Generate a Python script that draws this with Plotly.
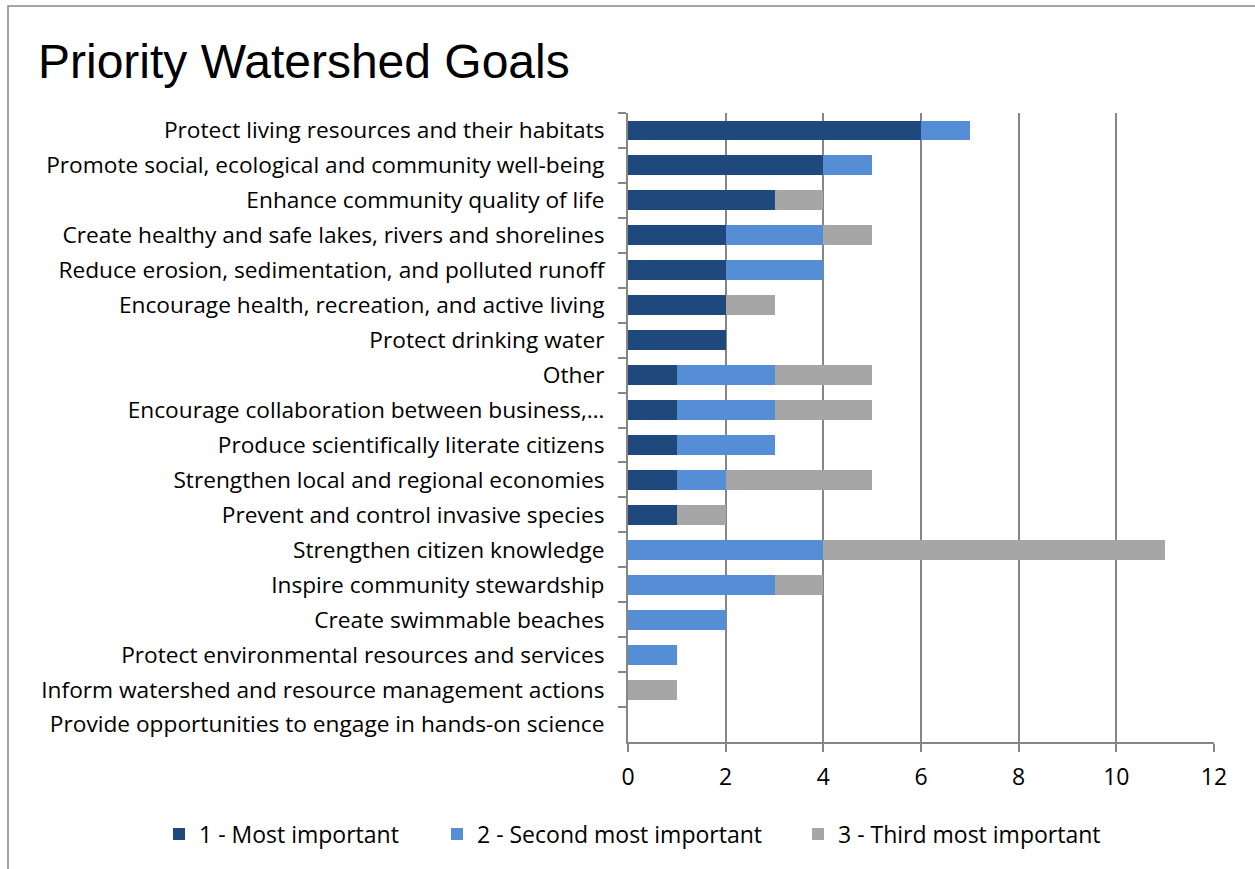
import plotly.graph_objects as go

categories = [
    "Protect living resources and their habitats",
    "Promote social, ecological and community well-being",
    "Enhance community quality of life",
    "Create healthy and safe lakes, rivers and shorelines",
    "Reduce erosion, sedimentation, and polluted runoff",
    "Encourage health, recreation, and active living",
    "Protect drinking water",
    "Other",
    "Encourage collaboration between business,…",
    "Produce scientifically literate citizens",
    "Strengthen local and regional economies",
    "Prevent and control invasive species",
    "Strengthen citizen knowledge",
    "Inspire community stewardship",
    "Create swimmable beaches",
    "Protect environmental resources and services",
    "Inform watershed and resource management actions",
    "Provide opportunities to engage in hands-on science",
]
most_important = [6, 4, 3, 2, 2, 2, 2, 1, 1, 1, 1, 1, 0, 0, 0, 0, 0, 0]
second_most = [1, 1, 0, 2, 2, 0, 0, 2, 2, 2, 1, 0, 4, 3, 2, 1, 0, 0]
third_most = [0, 0, 1, 1, 0, 1, 0, 2, 2, 0, 3, 1, 7, 1, 0, 0, 1, 0]
series_names = ["1 - Most important", "2 - Second most important", "3 - Third most important"]
colors = ["#1F497D", "#558ED5", "#A6A6A6"]
x_ticks = [0, 2, 4, 6, 8, 10, 12]

W, H = 1255, 869
L, R, T, B = 628, 41, 113, 127
pw, ph = W - L - R, H - T - B

legend_ids = ["legend", "legend2", "legend3"]
legend_x_px = [159, 437, 798]

fig = go.Figure()
for name, vals, c, lid in zip(series_names, [most_important, second_most, third_most], colors, legend_ids):
    fig.add_trace(go.Bar(
        y=categories, x=vals, name=name, orientation="h", legend=lid,
        showlegend=True,
        marker=dict(color=c, line=dict(width=0)), width=0.57,
    ))

legend_common = dict(orientation="h", xref="container", xanchor="left",
                     yref="container", y=1 - 834 / H, yanchor="middle",
                     font=dict(size=23), bgcolor="rgba(0,0,0,0)", visible=True)
legends = {lid: dict(legend_common, x=px / W) for lid, px in zip(legend_ids, legend_x_px)}

fig.update_layout(
    width=W, height=H,
    barmode="stack",
    showlegend=True,
    paper_bgcolor="white", plot_bgcolor="white",
    margin=dict(l=L, r=R, t=T, b=B, autoexpand=False),
    font=dict(family="Open Sans", size=22, color="black"),
    title=dict(text="Priority Watershed Goals", x=38 / W, xanchor="left",
               y=1 - 61 / H, yanchor="middle", yref="container",
               font=dict(family="Liberation Sans, Arial", size=48, color="black")),
    xaxis=dict(range=[0, 12], tickvals=x_ticks, showgrid=True, gridcolor="#868686",
               gridwidth=2, zeroline=False, showline=True, linecolor="#868686",
               linewidth=2, ticks="outside", ticklen=8, tickcolor="#868686",
               tickwidth=2, tickfont=dict(size=23), ticklabelstandoff=5,
               fixedrange=True),
    yaxis=dict(categoryorder="array", categoryarray=categories, autorange="reversed",
               showline=True, linecolor="#868686", linewidth=2, ticks="outside",
               tickson="boundaries", ticklen=8, tickcolor="#868686", tickwidth=2,
               showgrid=False, ticklabelstandoff=17, tickfont=dict(size=22.7)),
    shapes=[dict(type="rect", xref="paper", yref="paper",
                 x0=(8 - L) / pw, x1=(1300 - L) / pw,
                 y0=(742 - 920) / ph, y1=(742 - 6) / ph,
                 line=dict(color="#868686", width=1.5), layer="below")],
    **legends,
)

fig.write_html("out.html", config={"displayModeBar": False},
               post_script="document.body.style.margin='0';")
